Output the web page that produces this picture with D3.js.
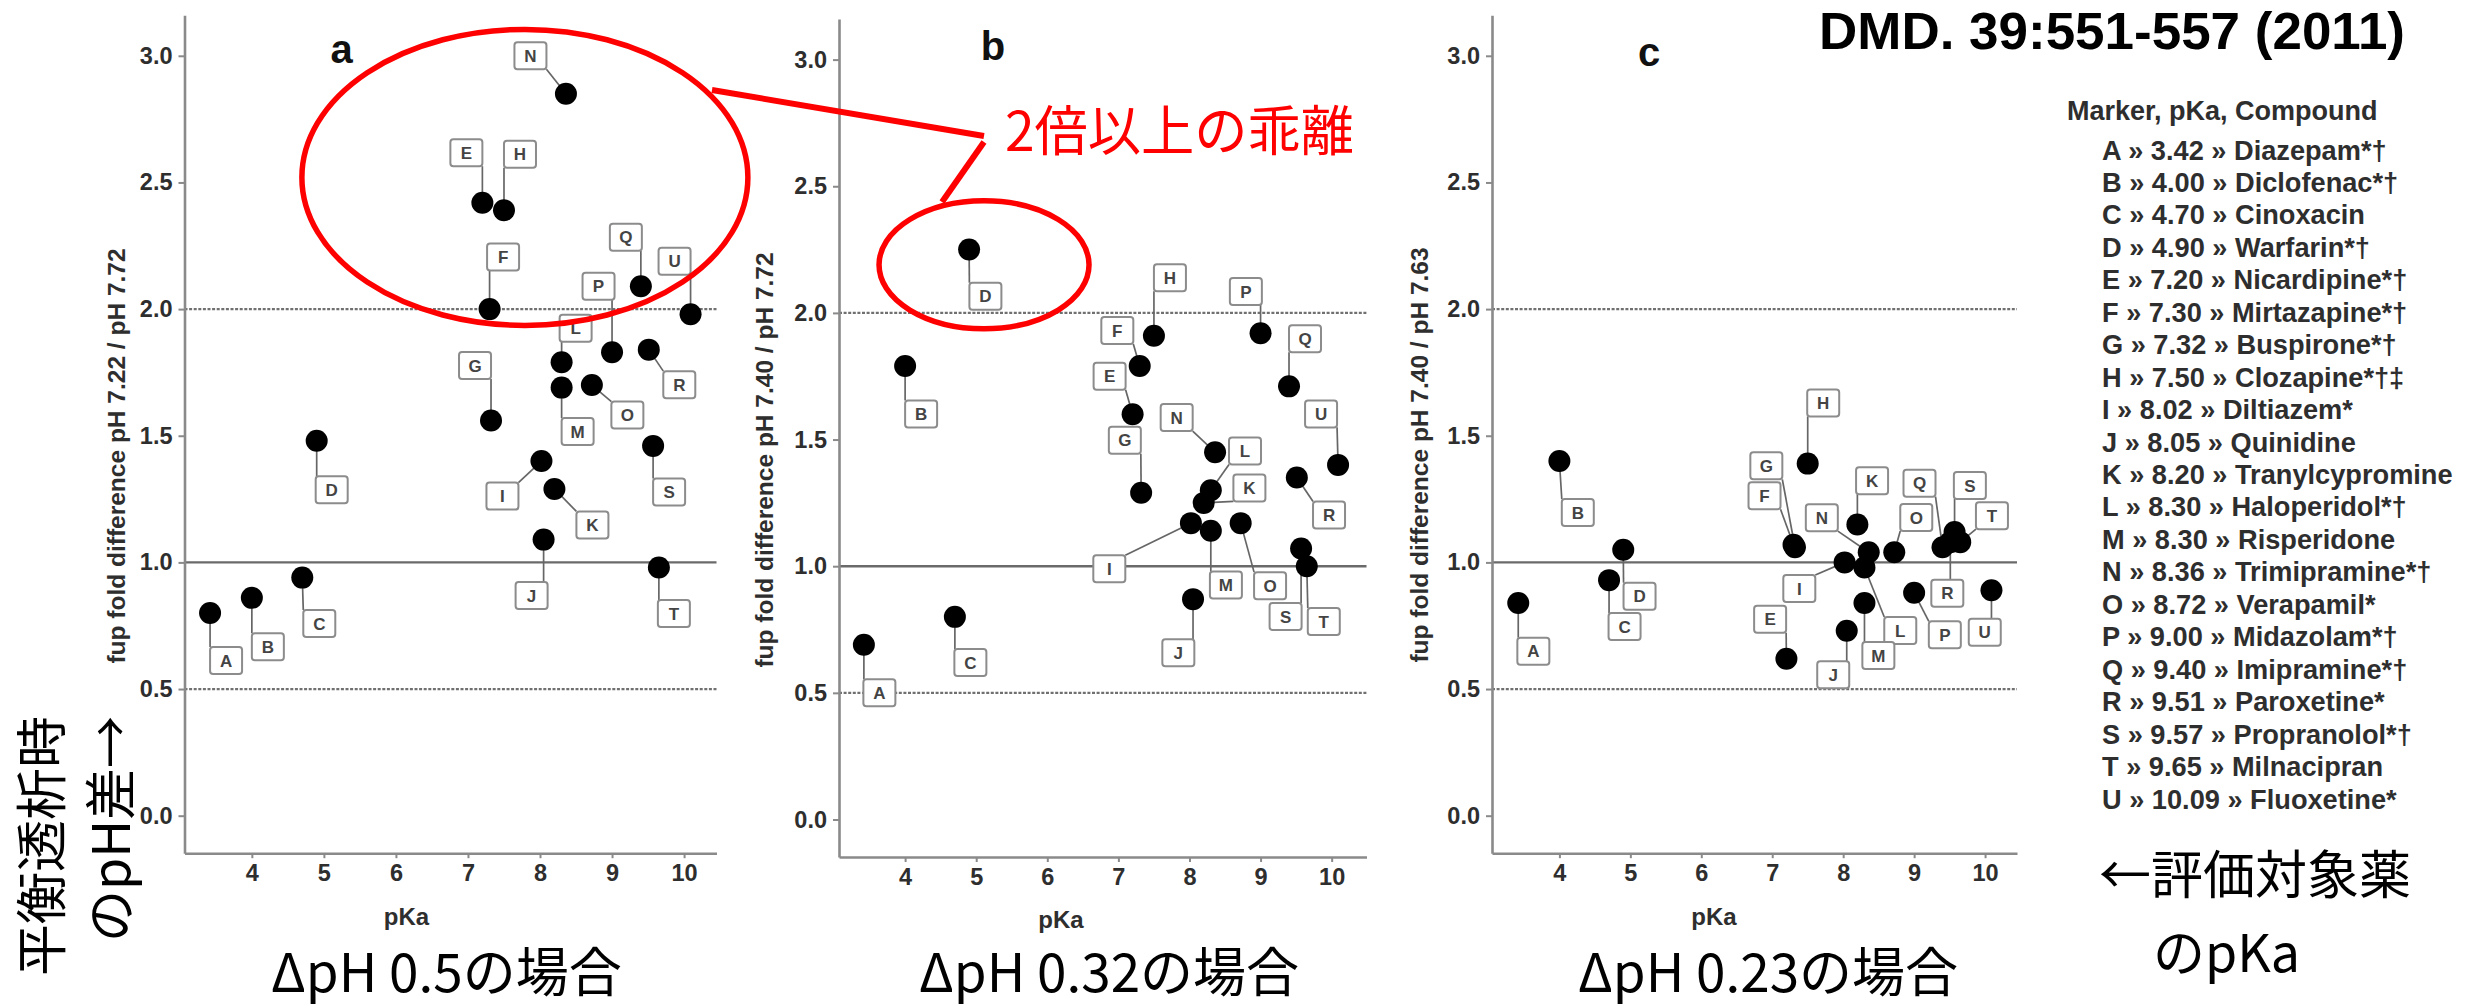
<!DOCTYPE html>
<html>
<head>
<meta charset="utf-8">
<script src="https://cdn.jsdelivr.net/npm/d3@7"></script>
<style>
  html, body { margin: 0; padding: 0; background: #fff; }
  svg { display: block; }
</style>
</head>
<body>
<svg id="chart" width="2484" height="1008"></svg>
<script>
// ---- data ----
const markers = ["A","B","C","D","E","F","G","H","I","J","K","L","M","N","O","P","Q","R","S","T","U"];
const pKa = [3.42, 4.00, 4.70, 4.90, 7.20, 7.30, 7.32, 7.50, 8.02, 8.05, 8.20, 8.30, 8.30, 8.36, 8.72, 9.00, 9.40, 9.51, 9.57, 9.65, 10.09];
const compounds = ["Diazepam*†","Diclofenac*†","Cinoxacin","Warfarin*†","Nicardipine*†","Mirtazapine*†",
  "Buspirone*†","Clozapine*†‡","Diltiazem*","Quinidine","Tranylcypromine","Haloperidol*†","Risperidone",
  "Trimipramine*†","Verapamil*","Midazolam*†","Imipramine*†","Paroxetine*","Propranolol*†","Milnacipran","Fluoxetine*"];

// fup fold difference, pH 7.22 / pH 7.72  (ΔpH 0.5)
const foldA = [0.80, 0.86, 0.94, 1.48, 2.42, 2.00, 1.56, 2.39, 1.40, 1.09, 1.29, 1.79, 1.69, 2.85, 1.70, 1.83, 2.09, 1.84, 1.46, 0.98, 1.98];
// fup fold difference, pH 7.40 / pH 7.72  (ΔpH 0.32)
const foldB = [0.69, 1.79, 0.80, 2.25, 1.60, 1.79, 1.29, 1.91, 1.17, 0.87, 1.25, 1.30, 1.14, 1.45, 1.17, 1.92, 1.71, 1.35, 1.07, 1.00, 1.40];
// fup fold difference, pH 7.40 / pH 7.63  (ΔpH 0.23)
const foldC = [0.84, 1.40, 0.93, 1.05, 0.62, 1.07, 1.06, 1.39, 1.00, 0.73, 1.15, 0.98, 0.84, 1.04, 1.04, 0.88, 1.06, 1.08, 1.12, 1.08, 0.89];

const yTicks = [0.0, 0.5, 1.0, 1.5, 2.0, 2.5, 3.0];
const xTicks = [4, 5, 6, 7, 8, 9, 10];
const dottedLines = [0.5, 2.0];
const solidLines = [1.0];

const panelLetters = ["a", "b", "c"];
const yTitles = ["fup fold difference pH 7.22 / pH 7.72",
                 "fup fold difference pH 7.40 / pH 7.72",
                 "fup fold difference pH 7.40 / pH 7.63"];
const conditionTexts = ["ΔpH 0.5の場合", "ΔpH 0.32の場合", "ΔpH 0.23の場合"];
const seriesList = [foldA, foldB, foldC];

// ---- label placement (box centre offset from marker, px) ----
const labelOffsets = [
  { A:[16,47.5], B:[16,49], C:[17,46], D:[15,49], E:[-16,-50], F:[13.5,-52], G:[-16,-55], H:[16,-56],
    I:[-39,35], J:[-12,56], K:[38,36], L:[14,-34], M:[16,44], N:[-35.5,-38], O:[35.5,30], P:[-13.5,-66],
    Q:[-15,-49], R:[30.5,35], S:[16,46], T:[15,46], U:[-16,-53] },
  { A:[15.5,48], B:[16,48], C:[15.5,45.7], D:[16.3,46.7], E:[-23,-38], F:[-22.4,-35.7], G:[-16.3,-52.5],
    H:[16,-58], I:[-81.6,45.7], J:[-14.7,53.6], K:[45.7,-15], L:[34.2,-39.3], M:[15.1,54.3], N:[-38.4,-34.6],
    O:[29.4,62.5], P:[-14.7,-41.7], Q:[16,-47.7], R:[32.2,37.5], S:[-15.5,68], T:[17,55.4], U:[-17,-51] },
  { A:[15.1,48.2], B:[18.4,51.4], C:[15.5,46.4], D:[16.3,46.4], E:[-16.3,-39.3], F:[-29,-49], G:[-28.6,-81.4],
    H:[15.5,-60.7], I:[-45.3,26.1], J:[-13.5,43.9], K:[14.7,-43.6], L:[35.8,63], M:[13.9,52.5], N:[-46.9,-34.6],
    O:[22,-34.7], P:[30.7,42], Q:[-23,-64], R:[-3,51], S:[15.3,-46.5], T:[31.7,-26.5], U:[-6.7,42] }
];

// ---- panel geometry ----
const UNIT = 253.3;              // px per 1.0 fold
const Y_MIN = -0.148, Y_MAX = 3.16;
const panelLayout = [
  { left:184.5, right:716.5, xDomain:[3.065,10.45], yZero:815.7, titleX:116,    titleY:456, condX:271,  letterX:330.6, letterY:63.3 },
  { left:839,   right:1366.5,xDomain:[3.07,10.49],  yZero:819.5, titleX:764.5,  titleY:460, condX:919,  letterX:980.8, letterY:60 },
  { left:1492,  right:2017,  xDomain:[3.05,10.45],  yZero:815.7, titleX:1419.6, titleY:455, condX:1578, letterX:1638,  letterY:66 }
];

const FONT = "'Liberation Sans', Arial, Helvetica, sans-serif";
const JFONT = "'Noto Sans CJK JP', 'Noto Sans', sans-serif";
const AXIS_COL = "#8a8a8a";
const TEXT_COL = "#2e2e2e";

const svg = d3.select("#chart");
svg.append("rect").attr("width", 2484).attr("height", 1008).attr("fill", "#fff");

const scales = [];

panelLayout.forEach((p, pi) => {
  const x = d3.scaleLinear().domain(p.xDomain).range([p.left, p.right]);
  const y = d3.scaleLinear().domain([Y_MIN, Y_MAX])
              .range([p.yZero - Y_MIN * UNIT, p.yZero - Y_MAX * UNIT]);
  scales.push({ x, y });
  const g = svg.append("g");
  const vals = seriesList[pi];

  // reference lines
  g.selectAll("line.dot").data(dottedLines).join("line")
    .attr("x1", p.left).attr("x2", p.right)
    .attr("y1", d => y(d)).attr("y2", d => y(d))
    .attr("stroke", "#707070").attr("stroke-width", 2.2).attr("stroke-dasharray", "3,1.6");
  g.selectAll("line.solid").data(solidLines).join("line")
    .attr("x1", p.left).attr("x2", p.right)
    .attr("y1", d => y(d)).attr("y2", d => y(d))
    .attr("stroke", "#6a6a6a").attr("stroke-width", 2.4);

  // axes
  const yAxis = d3.axisLeft(y).tickValues(yTicks).tickFormat(d3.format(".1f"))
    .tickSize(6).tickSizeOuter(0).tickPadding(6);
  const xAxis = d3.axisBottom(x).tickValues(xTicks).tickFormat(d3.format("d"))
    .tickSize(5).tickSizeOuter(0).tickPadding(6);
  const ya = g.append("g").attr("transform", `translate(${p.left},0)`).call(yAxis);
  const xa = g.append("g").attr("transform", `translate(0,${y(Y_MIN)})`).call(xAxis);
  [ya, xa].forEach(a => {
    a.select(".domain").attr("stroke", AXIS_COL).attr("stroke-width", 2.6);
    a.selectAll(".tick line").attr("stroke", AXIS_COL).attr("stroke-width", 2);
    a.selectAll(".tick text").attr("fill", TEXT_COL)
      .style("font-family", FONT).style("font-weight", "bold").style("font-size", "23.5px");
  });

  // axis titles
  g.append("text")
    .attr("transform", `translate(${p.titleX},${p.titleY}) rotate(-90)`)
    .attr("text-anchor", "middle").attr("dominant-baseline", "central")
    .style("font-family", FONT).style("font-weight", "bold").style("font-size", "24.5px")
    .attr("fill", TEXT_COL).text(yTitles[pi]);
  g.append("text")
    .attr("x", p.left + 222).attr("y", y(Y_MIN) + 63)
    .attr("text-anchor", "middle").attr("dominant-baseline", "central")
    .style("font-family", FONT).style("font-weight", "bold").style("font-size", "24px")
    .attr("fill", TEXT_COL).text("pKa");

  // panel letter
  g.append("text").attr("x", p.letterX).attr("y", p.letterY)
    .style("font-family", FONT).style("font-weight", "bold").style("font-size", "40px")
    .attr("fill", "#111").text(panelLetters[pi]);

  // condition caption below
  svg.append("text").attr("x", p.condX).attr("y", 992)
    .style("font-family", JFONT).style("font-size", "53px").attr("fill", "#000")
    .text(conditionTexts[pi]);

  // points and labels
  const pts = markers.map((m, i) => {
    const px = x(pKa[i]), py = y(vals[i]);
    const [dx, dy] = labelOffsets[pi][m];
    const bx = px + dx, by = py + dy;
    const bw = 32, bh = 27;
    const ex = Math.max(bx - bw / 2, Math.min(px, bx + bw / 2));
    const ey = Math.max(by - bh / 2, Math.min(py, by + bh / 2));
    return { m, px, py, bx, by, bw, bh, ex, ey };
  });

  g.selectAll("line.leader").data(pts).join("line")
    .attr("x1", d => d.px).attr("y1", d => d.py)
    .attr("x2", d => d.ex).attr("y2", d => d.ey)
    .attr("stroke", "#666").attr("stroke-width", 1.7);

  g.selectAll("circle.pt").data(pts).join("circle")
    .attr("cx", d => d.px).attr("cy", d => d.py).attr("r", 11).attr("fill", "#000");

  const lab = g.selectAll("g.lab").data(pts).join("g");
  lab.append("rect")
    .attr("x", d => d.bx - d.bw / 2).attr("y", d => d.by - d.bh / 2)
    .attr("width", d => d.bw).attr("height", d => d.bh).attr("rx", 3)
    .attr("fill", "#fff").attr("stroke", "#8c8c8c").attr("stroke-width", 2);
  lab.append("text")
    .attr("x", d => d.bx).attr("y", d => d.by).attr("dy", "0.36em")
    .attr("text-anchor", "middle")
    .style("font-family", FONT).style("font-weight", "bold").style("font-size", "17px")
    .attr("fill", "#444").text(d => d.m);
});

// ---- citation ----
svg.append("text").attr("x", 1819).attr("y", 49)
  .attr("textLength", 586).attr("lengthAdjust", "spacingAndGlyphs")
  .style("font-family", FONT).style("font-weight", "bold").style("font-size", "52px")
  .attr("fill", "#000").text("DMD. 39:551-557 (2011)");

// ---- marker legend ----
const legend = svg.append("g");
legend.append("text").attr("x", 2067).attr("y", 119.5)
  .style("font-family", FONT).style("font-weight", "bold").style("font-size", "27px")
  .attr("fill", TEXT_COL).text("Marker, pKa, Compound");
legend.selectAll("text.item").data(markers).join("text")
  .attr("x", 2102).attr("y", (d, i) => 159.5 + i * 32.45)
  .style("font-family", FONT).style("font-weight", "bold").style("font-size", "27.2px")
  .attr("fill", TEXT_COL)
  .text((d, i) => `${d} » ${pKa[i].toFixed(2)} » ${compounds[i]}`);

// ---- side captions ----
svg.append("text").attr("transform", "translate(38,716) rotate(-90)")
  .attr("text-anchor", "end").attr("dominant-baseline", "central")
  .style("font-family", JFONT).style("font-size", "52px").attr("fill", "#000").text("平衡透析時");
svg.append("text").attr("transform", "translate(107,716) rotate(-90)")
  .attr("text-anchor", "end").attr("dominant-baseline", "central")
  .style("font-family", JFONT).style("font-size", "52px").attr("fill", "#000").text("のpH差→");

svg.append("text").attr("x", 2099).attr("y", 894)
  .style("font-family", JFONT).style("font-size", "52px").attr("fill", "#000").text("←評価対象薬");
svg.append("text").attr("x", 2153).attr("y", 972)
  .style("font-family", JFONT).style("font-size", "52px").attr("fill", "#000").text("のpKa");

// ---- red annotation: points above two-fold ----
const RED = "#ff0000";
const sa = scales[0], sb = scales[1];
const ann = svg.append("g").attr("fill", "none").attr("stroke", RED);
ann.append("ellipse").attr("cx", sa.x(7.79)).attr("cy", sa.y(2.52)).attr("rx", 223).attr("ry", 148)
  .attr("stroke-width", 5.5);
ann.append("ellipse").attr("cx", sb.x(5.11)).attr("cy", sb.y(2.19)).attr("rx", 105).attr("ry", 64)
  .attr("stroke-width", 5.5);
ann.append("line").attr("x1", 712).attr("y1", 90).attr("x2", 984).attr("y2", 136).attr("stroke-width", 6);
ann.append("line").attr("x1", 984).attr("y1", 142).attr("x2", 942).attr("y2", 202).attr("stroke-width", 6);
svg.append("text").attr("x", 1005).attr("y", 151)
  .attr("textLength", 349).attr("lengthAdjust", "spacingAndGlyphs")
  .style("font-family", JFONT).style("font-size", "54px").attr("fill", RED).text("2倍以上の乖離");
</script>
</body>
</html>
